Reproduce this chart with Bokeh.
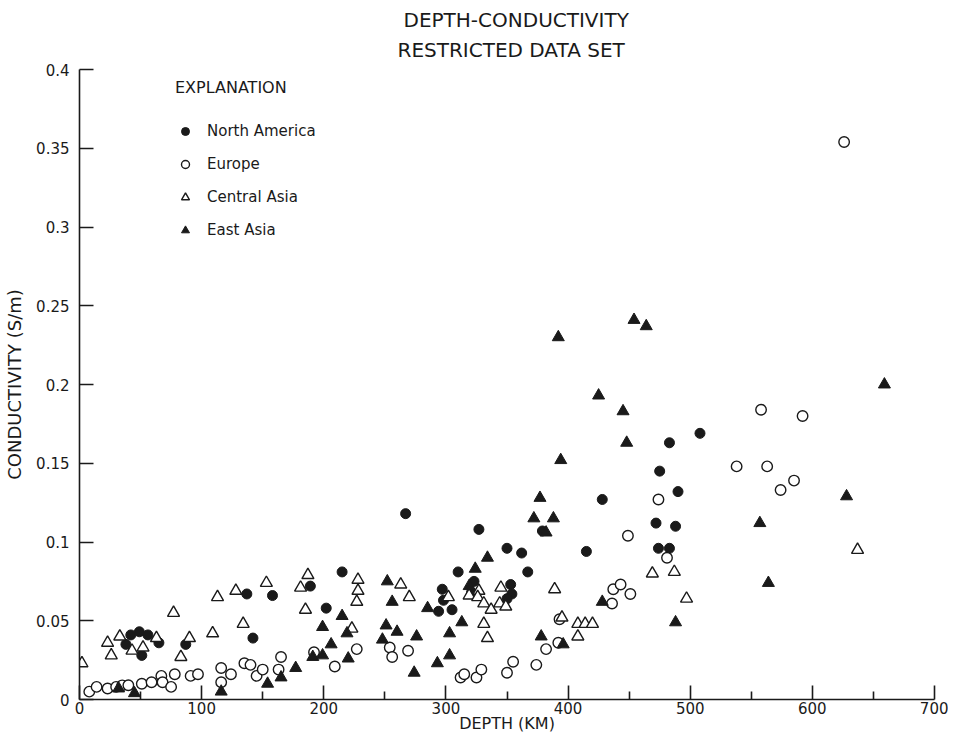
from bokeh.plotting import figure
from bokeh.models import Range1d, FixedTicker, Legend, LegendItem, Title
from bokeh.embed import file_html
from bokeh.resources import INLINE

# ---- data (depth km, conductivity S/m) ----
na_depth = [38, 42, 49, 56, 51, 65, 87, 137, 142, 158, 189, 215, 202, 267, 327,
            294, 297, 298, 305, 310, 323, 321, 350, 362, 367, 353, 354, 350, 379,
            415, 428, 472, 474, 475, 483, 483, 488, 490, 508]
na_cond = [0.035, 0.041, 0.043, 0.041, 0.028, 0.036, 0.035, 0.067, 0.039, 0.066,
           0.072, 0.081, 0.058, 0.118, 0.108, 0.056, 0.070, 0.063, 0.057, 0.081,
           0.075, 0.068, 0.096, 0.093, 0.081, 0.073, 0.067, 0.064, 0.107, 0.094,
           0.127, 0.112, 0.096, 0.145, 0.163, 0.096, 0.110, 0.132, 0.169]

eu_depth = [8, 14, 23, 30, 35, 40, 51, 59, 67, 68, 75, 78, 91, 97, 116, 116, 124,
            135, 140, 145, 150, 163, 165, 192, 209, 227, 254, 256, 269, 312, 315,
            325, 329, 350, 355, 374, 382, 392, 393, 436, 437, 443, 451, 449, 474,
            481, 538, 558, 563, 574, 585, 592, 626]
eu_cond = [0.005, 0.008, 0.007, 0.008, 0.009, 0.009, 0.010, 0.011, 0.015, 0.011,
           0.008, 0.016, 0.015, 0.016, 0.020, 0.011, 0.016, 0.023, 0.022, 0.015,
           0.019, 0.019, 0.027, 0.030, 0.021, 0.032, 0.033, 0.027, 0.031, 0.014,
           0.016, 0.014, 0.019, 0.017, 0.024, 0.022, 0.032, 0.036, 0.051, 0.061,
           0.070, 0.073, 0.067, 0.104, 0.127, 0.090, 0.148, 0.184, 0.148, 0.133,
           0.139, 0.180, 0.354]

ca_depth = [2, 23, 26, 33, 43, 52, 63, 77, 83, 90, 109, 113, 128, 134, 153, 181,
            187, 185, 228, 228, 227, 223, 263, 270, 302, 319, 327, 326, 331, 337,
            344, 345, 349, 331, 334, 389, 395, 408, 414, 420, 408, 469, 487, 497, 637]
ca_cond = [0.023, 0.036, 0.028, 0.040, 0.031, 0.033, 0.039, 0.055, 0.027, 0.039,
           0.042, 0.065, 0.069, 0.048, 0.074, 0.071, 0.079, 0.057, 0.076, 0.069,
           0.062, 0.045, 0.073, 0.065, 0.065, 0.066, 0.069, 0.065, 0.061, 0.057,
           0.061, 0.071, 0.059, 0.048, 0.039, 0.070, 0.052, 0.048, 0.048, 0.048,
           0.040, 0.080, 0.081, 0.064, 0.095]

ea_depth = [32, 45, 116, 154, 165, 177, 191, 199, 206, 199, 215, 219, 220, 252,
            256, 251, 260, 248, 276, 274, 285, 293, 303, 303, 313, 319, 324, 334,
            372, 377, 378, 382, 388, 392, 394, 396, 425, 428, 445, 448, 454, 464,
            488, 557, 564, 628, 659]
ea_cond = [0.007, 0.004, 0.005, 0.010, 0.014, 0.020, 0.027, 0.028, 0.035, 0.046,
           0.053, 0.042, 0.026, 0.075, 0.062, 0.047, 0.043, 0.038, 0.040, 0.017,
           0.058, 0.023, 0.028, 0.042, 0.049, 0.072, 0.083, 0.090, 0.115, 0.128,
           0.040, 0.106, 0.115, 0.230, 0.152, 0.035, 0.193, 0.062, 0.183, 0.163,
           0.241, 0.237, 0.049, 0.112, 0.074, 0.129, 0.200]

x_ticks = [0, 100, 200, 300, 400, 500, 600, 700]
x_minor_ticks = [50, 150, 250, 350, 450, 550, 650]
x_tick_labels = ["0", "100", "200", "300", "400", "500", "600", "700"]
y_ticks = [0, 0.05, 0.1, 0.15, 0.2, 0.25, 0.3, 0.35, 0.4]
y_tick_labels = ["0", "0.05", "0.1", "0.15", "0.2", "0.25", "0.3", "0.35", "0.4"]

INK = "#1a1a1a"
FONT = "DejaVu Sans"

p = figure(width=948, height=736, output_backend="svg", toolbar_location=None,
           x_range=Range1d(0, 700), y_range=Range1d(0, 0.4),
           min_border_left=79, min_border_right=14, min_border_top=69,
           min_border_bottom=37)
p.outline_line_color = None
p.grid.visible = False
p.background_fill_color = "white"
p.border_fill_color = "white"

# titles (later added sits further from plot)
t2 = Title(text="RESTRICTED DATA SET", align="left", text_font=FONT,
           text_font_size="20px", text_font_style="normal", text_color=INK,
           standoff=16, offset=318)
t1 = Title(text="DEPTH-CONDUCTIVITY", align="left", text_font=FONT,
           text_font_size="20px", text_font_style="normal", text_color=INK,
           standoff=-8, offset=324)
p.add_layout(t2, "above")
p.add_layout(t1, "above")

r_na = p.scatter(na_depth, na_cond, marker="circle", size=10,
                 fill_color=INK, line_color=INK, line_width=1)
r_eu = p.scatter(eu_depth, eu_cond, marker="circle", size=10.5,
                 fill_color="white", line_color=INK, line_width=1.4)
r_ca = p.scatter(ca_depth, ca_cond, marker="triangle", size=12,
                 fill_color="white", line_color=INK, line_width=1.4)
r_ea = p.scatter(ea_depth, ea_cond, marker="triangle", size=12,
                 fill_color=INK, line_color=INK, line_width=1)

# axes
for ax in (p.xaxis[0], p.yaxis[0]):
    ax.axis_line_color = INK
    ax.axis_line_width = 1.6
    ax.major_tick_line_color = INK
    ax.major_tick_line_width = 1.6
    ax.major_tick_out = 0
    ax.major_tick_in = 14
    ax.minor_tick_out = 0
    ax.major_label_text_font = FONT
    ax.major_label_text_font_size = "15px"
    ax.major_label_text_color = INK
    ax.axis_label_text_font = FONT
    ax.axis_label_text_font_style = "normal"
    ax.axis_label_text_color = INK

xa = p.xaxis[0]
xa.ticker = FixedTicker(ticks=x_ticks, minor_ticks=x_minor_ticks)
xa.major_label_overrides = dict(zip(x_ticks, x_tick_labels))
xa.minor_tick_in = 8
xa.minor_tick_line_color = INK
xa.minor_tick_line_width = 1.6
xa.major_label_standoff = 2
xa.axis_label = "DEPTH (KM)"
xa.axis_label_text_font_size = "16px"
xa.axis_label_standoff = -3

ya = p.yaxis[0]
ya.ticker = FixedTicker(ticks=y_ticks, minor_ticks=[])
ya.major_label_overrides = dict(zip(y_ticks, y_tick_labels))
ya.minor_tick_line_color = None
ya.major_label_standoff = 10
ya.axis_label = "CONDUCTIVITY (S/m)"
ya.axis_label_text_font_size = "18px"
ya.axis_label_standoff = 8

legend = Legend(items=[LegendItem(label="North America", renderers=[r_na]),
                       LegendItem(label="Europe", renderers=[r_eu]),
                       LegendItem(label="Central Asia", renderers=[r_ca]),
                       LegendItem(label="East Asia", renderers=[r_ea])],
                title="EXPLANATION", location=(96, 459),
                padding=0, margin=0, spacing=13,
                glyph_width=20, glyph_height=20, label_height=20,
                label_standoff=12, title_standoff=24,
                background_fill_alpha=0, border_line_color=None,
                label_text_font=FONT, label_text_font_size="15px",
                label_text_color=INK,
                title_text_font=FONT, title_text_font_size="16px",
                title_text_font_style="normal", title_text_color=INK)
p.add_layout(legend)

open("out.html", "w").write(file_html(p, INLINE))
